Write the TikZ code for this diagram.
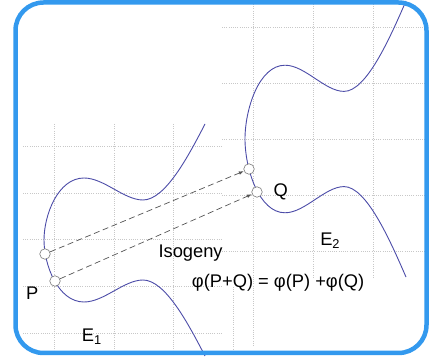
\documentclass[tikz,border=0pt]{standalone}
\usepackage{fontspec}
\setmainfont{Liberation Sans}
\usetikzlibrary{arrows.meta}
\definecolor{ink}{RGB}{40,40,40}
\definecolor{frameblue}{RGB}{51,153,238}
\definecolor{curveblue}{RGB}{76,76,168}
\definecolor{gridgray}{RGB}{200,200,200}
\definecolor{ringgray}{RGB}{120,120,120}
\definecolor{dashgray}{RGB}{85,85,85}
\tikzset{
  every picture/.style={color=ink, line width=0.5pt},
  gridline/.style={gridgray, line width=0.7pt, dash pattern=on 0.8pt off 1.4pt},
  curve/.style={curveblue, line width=0.9pt},
  ring/.style={circle, draw=ringgray, fill=white, line width=0.6pt, minimum size=10.5pt, inner sep=0pt},
  iso/.style={-{Latex[length=5pt,width=3.5pt]}, dashgray, line width=0.7pt, dash pattern=on 6pt off 3.5pt},
  lbl/.style={font=\fontsize{18.3}{21}\selectfont, text=black, inner sep=0pt, anchor=base west},
  frame/.style={frameblue, line width=4.5pt, rounded corners=28pt},
}
% one real branch, tip at the origin, drawn in pixel units
\newcommand{\ecurve}{(161,-116) .. controls (144,-83) and (121,-40) .. (99,-40)
  .. controls (80,-40) and (60,-62) .. (40,-62)
  .. controls (14,-62) and (0,-25) .. (0,0)
  .. controls (0,25) and (14,62) .. (40,62)
  .. controls (60,62) and (80,40) .. (99,40)
  .. controls (121,40) and (144,83) .. (161,116)}

\begin{document}
\begin{tikzpicture}[x=1pt, y=-1pt]
  \useasboundingbox (0,0) rectangle (429,358);
  % the two curves sit on their own dotted grids; the isogeny carries P and Q across
  \foreach \x in {54,114,173} \draw[gridline] (\x,124) -- (\x,353);
  \draw[gridline] (233,287) -- (233,353);
  \foreach \y in {146,193,239,286,333} \draw[gridline] (23,\y) -- (222,\y);
  \foreach \y in {27,83,139,195,251} \draw[gridline] (222,\y) -- (426,\y);
  \draw[gridline] (253,4) -- (253,347);
  \foreach \x in {313,373} \draw[gridline] (\x,4) -- (\x,277);

  \begin{scope}[shift={(44,240)}]
    \draw[curve] \ecurve;
  \end{scope}
  \begin{scope}[shift={(245,139)}, yscale=1.19]
    \draw[curve] \ecurve;
  \end{scope}

  \node[ring] (p1) at (45,254) {};
  \node[ring] (p2) at (55,281) {};
  \node[ring] (q1) at (249,169) {};
  \node[ring] (q2) at (257,192) {};
  \draw[iso] (p1) -- (q1);
  \draw[iso] (p2) -- (q2);

  \node[lbl] (labP) at (26,299.3) {P};
  \node[lbl] (labQ) at (273.3,197) {Q};
  \node[lbl] (labE1) at (81.7,342) {E\textsubscript{1}};
  \node[lbl] (labE2) at (320,245.7) {E\textsubscript{2}};
  \node[lbl] (iso) at (158.3,257.3) {Isogeny};
  \node[lbl] (law) at (191.7,287.3) {φ(P+Q) = φ(P) +φ(Q)};

  \draw[frame] (15.5,2.5) rectangle (426.5,353);
\end{tikzpicture}
\end{document}
